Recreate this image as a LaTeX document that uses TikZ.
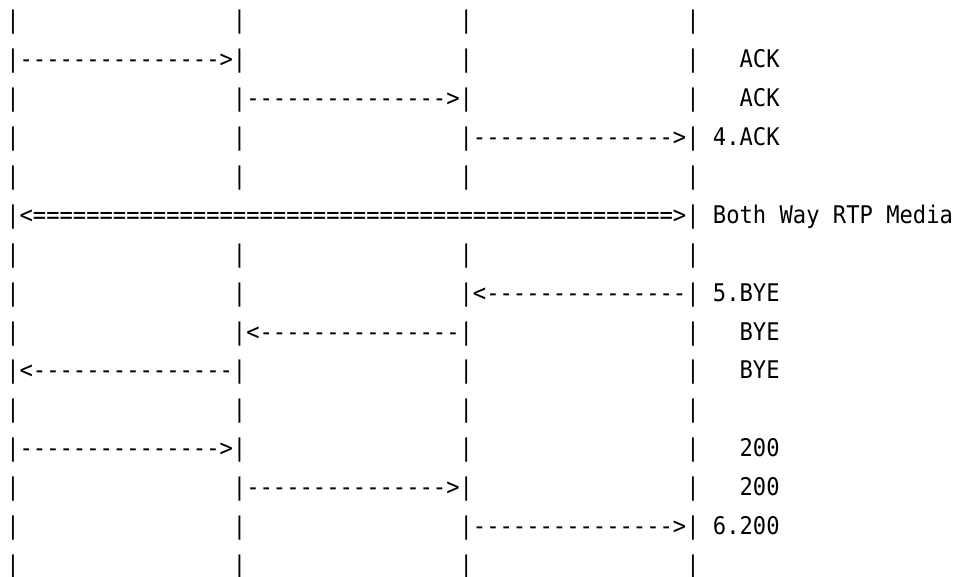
\documentclass[tikz,border=0pt]{standalone}
\usepackage{fontspec}
\newfontfamily\asciifont{DejaVu Sans Mono}[FakeStretch=0.9114,Ligatures=TeXOff]
\tikzset{
  ascii/.style={anchor=base west, inner sep=0pt, outer sep=0pt,
    font=\asciifont\fontsize{24.3}{30}\selectfont, text=black},
}
% #1 name, #2 row, #3 column, #4 text
\newcommand\cellat[4]{\node[ascii] (#1) at ({6.3+13.333*#3},{-(28.6+38.93*#2)}) {#4};}
% four lifelines in one row
\newcommand\lanesrow[1]{%
  \cellat{p#1-0}{#1}{0}{|}\cellat{p#1-1}{#1}{17}{|}%
  \cellat{p#1-2}{#1}{34}{|}\cellat{p#1-3}{#1}{51}{|}}
\begin{document}
\begin{tikzpicture}[x=1pt,y=1pt]
\useasboundingbox (0,0) rectangle (955,-576);
\fill[white] (0,0) rectangle (955,-576);
% row 0
\lanesrow{0}
% row 1
\lanesrow{1}
\cellat{a1}{1}{1}{--------------->}
\cellat{l1}{1}{55}{ACK}
% row 2
\lanesrow{2}
\cellat{a2}{2}{18}{--------------->}
\cellat{l2}{2}{55}{ACK}
% row 3
\lanesrow{3}
\cellat{a3}{3}{35}{--------------->}
\cellat{l3}{3}{53}{4.ACK}
% row 4
\lanesrow{4}
% row 5
\cellat{p5-0}{5}{0}{|}
\cellat{a5}{5}{1}{<================================================>}
\cellat{p5-3}{5}{51}{|}
\cellat{l5}{5}{53}{Both Way RTP Media}
% row 6
\lanesrow{6}
% row 7
\lanesrow{7}
\cellat{a7}{7}{35}{<---------------}
\cellat{l7}{7}{53}{5.BYE}
% row 8
\lanesrow{8}
\cellat{a8}{8}{18}{<---------------}
\cellat{l8}{8}{55}{BYE}
% row 9
\lanesrow{9}
\cellat{a9}{9}{1}{<---------------}
\cellat{l9}{9}{55}{BYE}
% row 10
\lanesrow{10}
% row 11
\lanesrow{11}
\cellat{a11}{11}{1}{--------------->}
\cellat{l11}{11}{55}{200}
% row 12
\lanesrow{12}
\cellat{a12}{12}{18}{--------------->}
\cellat{l12}{12}{55}{200}
% row 13
\lanesrow{13}
\cellat{a13}{13}{35}{--------------->}
\cellat{l13}{13}{53}{6.200}
% row 14
\lanesrow{14}
\end{tikzpicture}
\end{document}
